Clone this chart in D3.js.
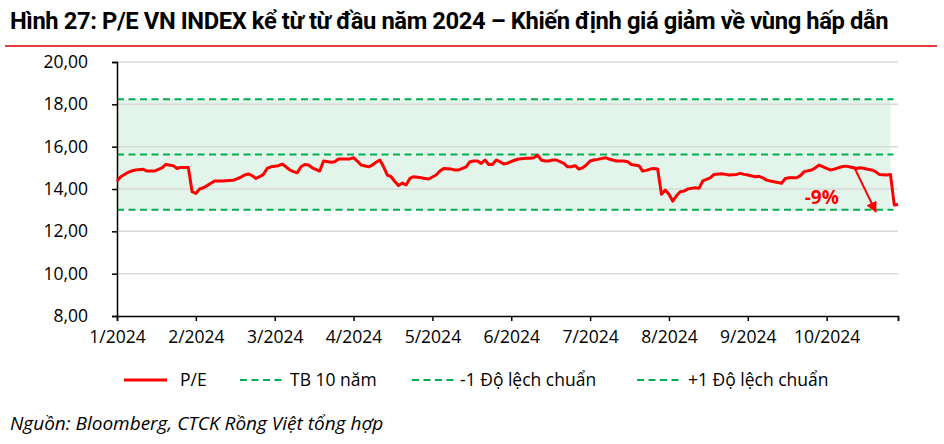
<!DOCTYPE html>
<html>
<head>
<meta charset="utf-8">
<script src="https://cdn.jsdelivr.net/npm/d3@7"></script>
<style>
  html, body { margin: 0; padding: 0; background: #fff; }
  svg { display: block; }
  text { font-family: "Open Sans", "Noto Sans", sans-serif; fill: #000; }
</style>
</head>
<body>
<svg id="chart" width="944" height="444"></svg>
<script>
// ---- DATA ----
const titleText = "Hình 27: P/E VN INDEX kể từ từ đầu năm 2024 – Khiến định giá giảm về vùng hấp dẫn";
const sourceText = "Nguồn:  Bloomberg, CTCK Rồng Việt tổng hợp";

// trading-day index since the first session of 2024
const tradingDays = [0,1,3,4,5,7,8,9,10,11,12,13,15,16,17,18,19,20,21,22,23,24,25,26,28,31,33,34,35,36,37,38,39,40,41,43,44,45,46,47,48,49,50,51,52,54,55,57,58,59,60,61,62,63,64,65,67,68,69,70,71,72,73,74,75,76,77,78,79,81,82,83,85,86,87,89,90,91,93,94,95,96,97,98,99,100,101,102,103,104,106,107,109,110,111,112,113,114,115,116,117,119,120,121,122,123,124,125,126,127,128,130,131,132,133,135,136,137,139,140,141,142,143,144,145,146,147,148,149,150,151,152,153,154,155,156,157,158,159,161,162,163,165,166,167,168,170,171,172,173,174,176,177,178,179,181,182,183,185,186,187,189,190,191,193,194,195,197,198,199,201,202,203,205,206,207,208];
const peValues = [14.38,14.58,14.79,14.86,14.90,14.93,14.85,14.85,14.85,14.93,15.00,15.16,15.10,14.97,15.02,15.02,15.02,13.87,13.79,14.00,14.06,14.16,14.27,14.38,14.38,14.41,14.56,14.66,14.71,14.63,14.50,14.58,14.69,14.97,15.05,15.10,15.18,15.05,14.90,14.82,14.77,15.05,15.16,15.13,15.00,14.85,15.32,15.26,15.29,15.42,15.42,15.42,15.42,15.48,15.32,15.13,15.05,15.13,15.26,15.37,15.05,14.66,14.58,14.35,14.16,14.28,14.19,14.50,14.58,14.53,14.50,14.47,14.66,14.85,14.97,14.94,14.90,14.90,15.05,15.29,15.32,15.32,15.21,15.37,15.16,15.16,15.37,15.29,15.18,15.22,15.37,15.42,15.45,15.45,15.48,15.60,15.37,15.32,15.32,15.37,15.37,15.21,15.05,15.05,15.10,14.94,15.00,15.13,15.32,15.37,15.40,15.48,15.42,15.37,15.32,15.32,15.29,15.16,15.10,14.85,14.88,14.94,14.97,14.94,13.75,13.95,13.75,13.43,13.68,13.87,13.90,14.00,14.03,14.06,14.03,14.38,14.45,14.53,14.69,14.72,14.69,14.66,14.69,14.74,14.69,14.66,14.58,14.60,14.53,14.42,14.38,14.31,14.27,14.50,14.53,14.53,14.63,14.82,14.90,15.00,15.13,14.97,14.90,14.94,15.05,15.08,15.05,14.97,15.00,14.97,14.90,14.82,14.69,14.66,14.68,13.24,13.27];

const mean10y = 15.63;
const minus1SD = 13.02;
const plus1SD = 18.24;

const monthLabels = ["1/2024","2/2024","3/2024","4/2024","5/2024","6/2024","7/2024","8/2024","9/2024","10/2024"];
const daysPerLabel = 21;
const lastDay = 208;
const bandLastDay = 206;

const yTicks = [8,10,12,14,16,18,20];

const legendItems = ["P/E", "TB 10 năm", "-1 Độ lệch chuẩn", "+1 Độ lệch chuẩn"];

const annotationText = "-9%";
const arrowFrom = {day: 196.3, pe: 15.04};
const arrowTo = {day: 202.1, pe: 12.92};
const annotationAt = {day: 187.7, pe: 13.3};

// ---- DRAW ----
const svg = d3.select("#chart");
const RED = "#ff0000";
const GREEN = "#00b050";
const FS = 17.5;

const x = d3.scaleLinear().domain([0, lastDay]).range([117, 898]);
const y = d3.scaleLinear().domain([8, 20]).range([316, 62]);

// title (shrink font until it fits the rule width)
const title = svg.append("text")
  .attr("x", 10).attr("y", 29)
  .attr("font-weight", "bold")
  .style("font-family", "Roboto, 'Open Sans', sans-serif")
  .style("letter-spacing", "-0.4px")
  .text(titleText);
let tfs = 25;
title.attr("font-size", tfs);
while (title.node().getComputedTextLength() > 884 && tfs > 12) {
  tfs -= 0.25;
  title.attr("font-size", tfs);
}

svg.append("line")
  .attr("x1", 5).attr("x2", 937).attr("y1", 46).attr("y2", 46)
  .attr("stroke", "#e8393d").attr("stroke-width", 2);

// band
svg.append("rect")
  .attr("x", x(0)).attr("width", x(bandLastDay) - x(0))
  .attr("y", y(plus1SD)).attr("height", y(minus1SD) - y(plus1SD))
  .attr("fill", "#e3f5ea");

// gridlines
svg.append("g").selectAll("line")
  .data(yTicks.filter(t => t > 8))
  .join("line")
  .attr("x1", x(0)).attr("x2", x(lastDay))
  .attr("y1", d => y(d)).attr("y2", d => y(d))
  .attr("stroke", "#d9d9d9").attr("stroke-width", 1.5);

// dashed reference lines
svg.append("g").selectAll("line")
  .data([plus1SD, mean10y, minus1SD])
  .join("line")
  .attr("x1", x(0)).attr("x2", x(lastDay - 1.2))
  .attr("y1", d => y(d)).attr("y2", d => y(d))
  .attr("stroke", GREEN).attr("stroke-width", 2.2)
  .attr("stroke-dasharray", "7,4.5");

// axes
const yAxis = d3.axisLeft(y).tickValues(yTicks).tickSize(5).tickFormat(d => d3.format(".2f")(d).replace(".", ","));
const gy = svg.append("g").attr("transform", `translate(${x(0)},0)`).call(yAxis);
gy.select(".domain").attr("stroke", "#000").attr("stroke-width", 1.5);
gy.selectAll(".tick line").attr("stroke", "#000").attr("stroke-width", 1.5);
gy.selectAll(".tick text").attr("x", -29).attr("font-size", FS)
  .style("font-family", "'Open Sans', sans-serif").attr("fill", "#000");

const tickDays = monthLabels.map((m, i) => i * daysPerLabel);
const xAxis = d3.axisBottom(x).tickValues(tickDays.concat([lastDay])).tickSize(5)
  .tickFormat(d => { const i = tickDays.indexOf(d); return i >= 0 ? monthLabels[i] : ""; });
const gx = svg.append("g").attr("transform", `translate(0,${y(8)})`).call(xAxis);
gx.select(".domain").attr("stroke", "#000").attr("stroke-width", 1.5);
gx.selectAll(".tick line").attr("stroke", "#000").attr("stroke-width", 1.5);
gx.selectAll(".tick text").attr("y", 15).attr("font-size", FS)
  .style("font-family", "'Open Sans', sans-serif").attr("fill", "#000");

// P/E line
const series = tradingDays.map((d, i) => ({day: d, pe: peValues[i]}));
svg.append("path")
  .datum(series)
  .attr("fill", "none").attr("stroke", RED).attr("stroke-width", 3)
  .attr("stroke-linejoin", "round")
  .attr("d", d3.line().x(d => x(d.day)).y(d => y(d.pe)));

// annotation arrow
const defs = svg.append("defs");
defs.append("marker").attr("id", "arrowhead")
  .attr("viewBox", "0 0 10 10").attr("refX", 9).attr("refY", 5)
  .attr("markerWidth", 11).attr("markerHeight", 11).attr("orient", "auto")
  .attr("markerUnits", "userSpaceOnUse")
  .append("path").attr("d", "M0,0 L10,5 L0,10 z").attr("fill", RED);

svg.append("line")
  .attr("x1", x(arrowFrom.day)).attr("y1", y(arrowFrom.pe))
  .attr("x2", x(arrowTo.day)).attr("y2", y(arrowTo.pe))
  .attr("stroke", RED).attr("stroke-width", 2)
  .attr("marker-end", "url(#arrowhead)");

svg.append("text")
  .attr("x", x(annotationAt.day)).attr("y", y(annotationAt.pe))
  .attr("text-anchor", "middle")
  .attr("font-size", 19).attr("font-weight", "bold")
  .style("font-family", "'Open Sans', sans-serif")
  .style("fill", RED)
  .text(annotationText);

// legend
const legendY = 380;
const legendPos = [{x: 124, tx: 180}, {x: 240, tx: 290}, {x: 412, tx: 460}, {x: 637, tx: 688}];
const lg = svg.append("g");
legendItems.forEach((name, i) => {
  const p = legendPos[i];
  lg.append("line")
    .attr("x1", p.x).attr("x2", p.x + 43)
    .attr("y1", legendY).attr("y2", legendY)
    .attr("stroke", i === 0 ? RED : GREEN)
    .attr("stroke-width", i === 0 ? 3 : 2.2)
    .attr("stroke-dasharray", i === 0 ? null : "7,4.5");
  lg.append("text")
    .attr("x", p.tx).attr("y", legendY).attr("dy", "0.35em")
    .attr("font-size", FS)
    .text(name);
});

// source
svg.append("text")
  .attr("x", 10).attr("y", 430)
  .attr("font-size", 19).attr("font-style", "italic")
  .text(sourceText);
</script>
</body>
</html>
